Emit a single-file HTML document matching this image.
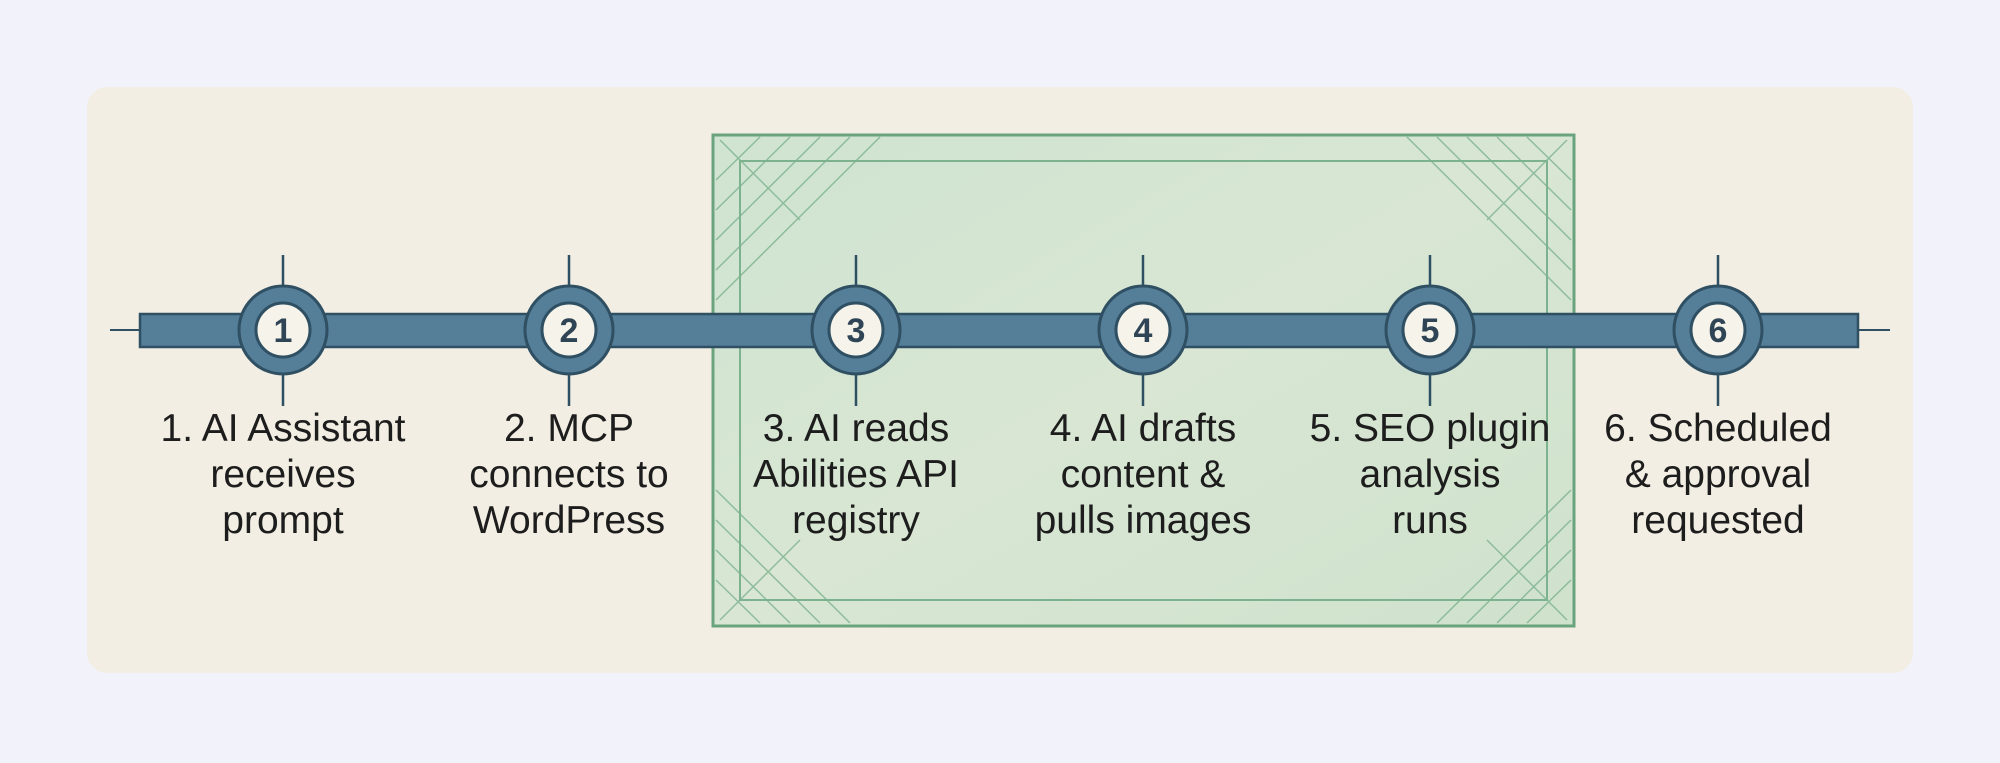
<!DOCTYPE html>
<html><head><style>
body{margin:0;width:2000px;height:763px;background:#f2f2fb;position:relative;overflow:hidden;font-family:"Liberation Sans",sans-serif}
.card{position:absolute;left:87px;top:87px;width:1826px;height:586px;background:#f3eee3;border-radius:20px}
.lbl{position:absolute;width:300px;text-align:center;font-size:39px;line-height:46px;color:#1d1d1d;top:406px}
</style></head><body>
<div class="card"></div>
<svg width="2000" height="763" style="position:absolute;left:0;top:0">
<defs>
<linearGradient id="g" x1="0" y1="0" x2="1" y2="1"><stop offset="0" stop-color="#cfe4d1"/><stop offset="0.5" stop-color="#d8e6d3"/><stop offset="1" stop-color="#cfe2cc"/></linearGradient>
</defs>
<rect x="713" y="135" width="861" height="491" fill="url(#g)" stroke="#6aa47e" stroke-width="3"/>
<rect x="740" y="161" width="807" height="439" fill="none" stroke="#7cb28e" stroke-width="2"/>
<g stroke="#7cb28e" stroke-width="1.5" opacity="0.8">
<path d="M716 180 L760 137 M716 210 L790 137 M716 240 L820 137 M716 270 L850 137 M716 300 L880 137 M720 140 L800 220"/>
<path d="M1571 180 L1527 137 M1571 210 L1497 137 M1571 240 L1467 137 M1571 270 L1437 137 M1571 300 L1407 137 M1567 140 L1487 220"/>
<path d="M716 580 L760 623 M716 550 L790 623 M716 520 L820 623 M716 490 L850 623 M720 620 L800 540"/>
<path d="M1571 580 L1527 623 M1571 550 L1497 623 M1571 520 L1467 623 M1571 490 L1437 623 M1567 620 L1487 540"/>
</g>
<line x1="110" y1="330" x2="1890" y2="330" stroke="#2f4f63" stroke-width="2"/>
<rect x="140" y="314" width="1718" height="33" fill="#557e99" stroke="#2f4f63" stroke-width="2.5"/>
<g stroke="#2f4f63" stroke-width="2.5">
<line x1="283" y1="255" x2="283" y2="406"/><line x1="569" y1="255" x2="569" y2="406"/><line x1="856" y1="255" x2="856" y2="406"/><line x1="1143" y1="255" x2="1143" y2="406"/><line x1="1430" y1="255" x2="1430" y2="406"/><line x1="1718" y1="255" x2="1718" y2="406"/>
</g>
<g fill="#557e99" stroke="#2f4f63" stroke-width="3">
<circle cx="283" cy="330" r="44"/><circle cx="569" cy="330" r="44"/><circle cx="856" cy="330" r="44"/><circle cx="1143" cy="330" r="44"/><circle cx="1430" cy="330" r="44"/><circle cx="1718" cy="330" r="44"/>
</g>
<g fill="#f6f3ea" stroke="#2f4f63" stroke-width="3">
<circle cx="283" cy="330" r="27"/><circle cx="569" cy="330" r="27"/><circle cx="856" cy="330" r="27"/><circle cx="1143" cy="330" r="27"/><circle cx="1430" cy="330" r="27"/><circle cx="1718" cy="330" r="27"/>
</g>
<g font-family="Liberation Sans,sans-serif" font-weight="bold" font-size="34" fill="#2f4555" text-anchor="middle">
<text x="283" y="342">1</text><text x="569" y="342">2</text><text x="856" y="342">3</text><text x="1143" y="342">4</text><text x="1430" y="342">5</text><text x="1718" y="342">6</text>
</g>
</svg>
<div class="lbl" style="left:133px">1. AI Assistant<br>receives<br>prompt</div>
<div class="lbl" style="left:419px">2. MCP<br>connects to<br>WordPress</div>
<div class="lbl" style="left:706px">3. AI reads<br>Abilities API<br>registry</div>
<div class="lbl" style="left:993px">4. AI drafts<br>content &amp;<br>pulls images</div>
<div class="lbl" style="left:1280px">5. SEO plugin<br>analysis<br>runs</div>
<div class="lbl" style="left:1568px">6. Scheduled<br>&amp; approval<br>requested</div>
</body></html>
